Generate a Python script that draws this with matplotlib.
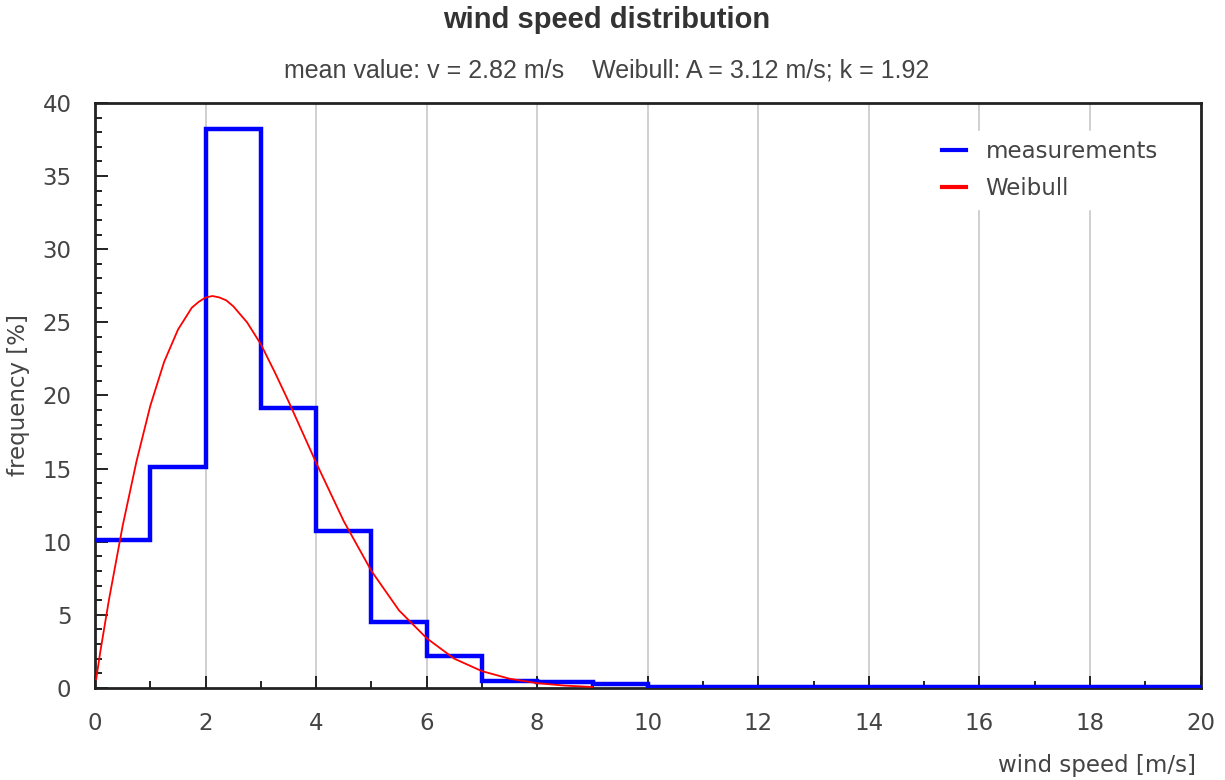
import matplotlib
matplotlib.use('Agg')
import matplotlib.pyplot as plt
from matplotlib.ticker import MultipleLocator

# measured histogram, 1 m/s bins (edges 0..20)
bin_edges = [0, 1, 2, 3, 4, 5, 6, 7, 8, 9, 10, 20]
freq_measured = [10.1, 15.1, 38.2, 19.15, 10.7, 4.5, 2.2, 0.5, 0.4, 0.25, 0.08]

# Weibull curve
weibull_v = [0.02, 0.1, 0.25, 0.5, 0.75, 1.0, 1.25, 1.5, 1.75, 1.875, 2.0, 2.125,
             2.25, 2.375, 2.5, 2.75, 3.0, 3.25, 3.5, 3.75, 4.0, 4.5, 5.0, 5.5,
             6.0, 6.5, 7.0, 7.5, 8.0, 8.5, 9.0]
weibull_f = [0.6, 2.6, 6.0, 11.1, 15.5, 19.3, 22.3, 24.5, 26.0, 26.4, 26.7, 26.8,
             26.7, 26.5, 26.1, 25.0, 23.5, 21.6, 19.6, 17.5, 15.4, 11.4, 8.0, 5.3,
             3.4, 2.0, 1.15, 0.63, 0.33, 0.16, 0.07]

title = 'wind speed distribution'
subtitle = 'mean value: v = 2.82 m/s    Weibull: A = 3.12 m/s; k = 1.92'

text_col = '#444444'
fs = 16.5
plt.rcParams['font.family'] = ['DejaVu Sans']

fig = plt.figure(figsize=(12.25, 7.8), dpi=100)
ax = fig.add_axes([0.0776, 0.118, 0.9024, 0.75])

# step outline of histogram
step_x = []
step_y = []
for i, f in enumerate(freq_measured):
    step_x += [bin_edges[i], bin_edges[i + 1]]
    step_y += [f, f]
ax.plot(step_x, step_y, color='#0000ff', lw=3.2, label='measurements',
        solid_joinstyle='miter', zorder=3)
ax.plot(weibull_v, weibull_f, color='#ff0000', lw=1.3, label='Weibull', zorder=4)

ax.set_xlim(0, 20)
ax.set_ylim(0, 40)
ax.xaxis.set_major_locator(MultipleLocator(2))
ax.xaxis.set_minor_locator(MultipleLocator(1))
ax.yaxis.set_major_locator(MultipleLocator(5))
ax.yaxis.set_minor_locator(MultipleLocator(1))
ax.tick_params(which='both', direction='in', colors='#222222', labelcolor=text_col,
               labelsize=fs, width=1.4)
ax.tick_params(which='major', length=9)
ax.tick_params(which='minor', length=5)
ax.tick_params(axis='x', which='major', pad=17)
ax.tick_params(axis='y', which='major', pad=17)
ax.grid(axis='x', which='major', color='#c8c8c8', lw=1.2, zorder=1)
for s in ax.spines.values():
    s.set_linewidth(2)
    s.set_color('#222222')

fig.text(0.495, 0.974, title, ha='center', va='center', fontsize=21,
         fontweight='bold', color='#333333', family='Liberation Sans')
fig.text(0.495, 0.910, subtitle, ha='center', va='center', fontsize=18,
         color=text_col, family='Liberation Sans')
fig.text(0.976, 0.018, 'wind speed [m/s]', ha='right', va='center', fontsize=fs,
         color=text_col)
fig.text(0.015, 0.493, 'frequency [%]', ha='center', va='center', rotation=90,
         fontsize=fs, color=text_col)

leg = ax.legend(loc='upper right', bbox_to_anchor=(0.98, 0.972), frameon=True,
                fontsize=fs, handlelength=1.05, handletextpad=0.85,
                labelspacing=0.6, borderpad=0.4)
leg.get_frame().set_edgecolor('white')
leg.get_frame().set_alpha(1)
for line in leg.get_lines():
    line.set_linewidth(3)
for t in leg.get_texts():
    t.set_color(text_col)

fig.savefig('out.png', dpi=100)
